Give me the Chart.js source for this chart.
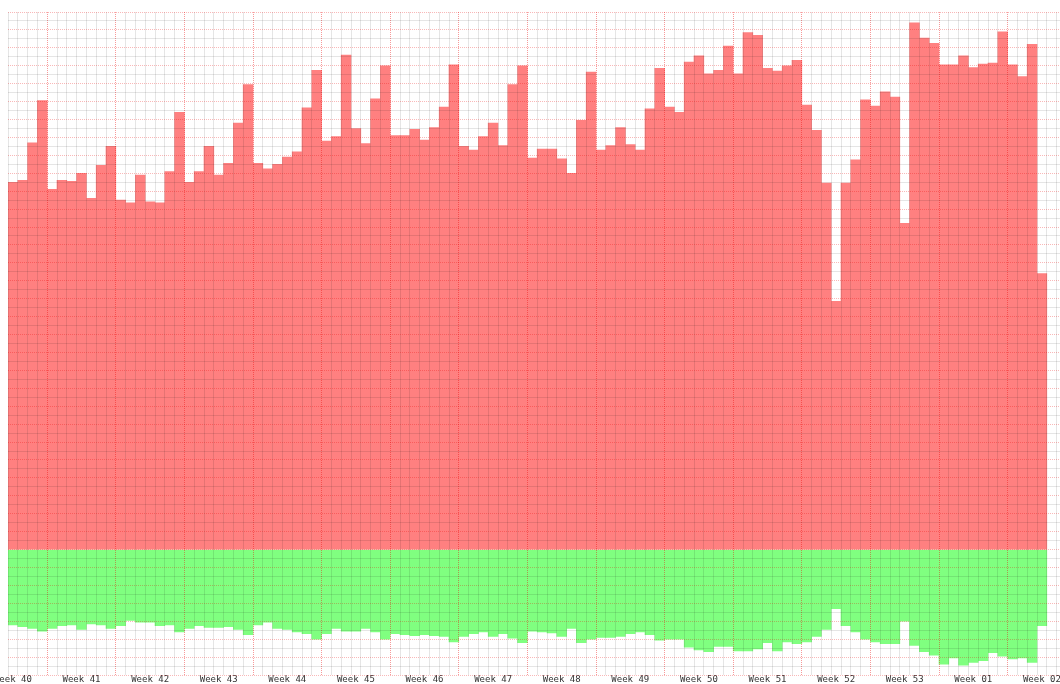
<!DOCTYPE html>
<html><head><meta charset="utf-8">
<script src="https://cdn.jsdelivr.net/npm/chart.js@4/dist/chart.umd.min.js"></script>
<style>
html,body{margin:0;padding:0;background:#fff;overflow:hidden;width:1060px;height:684px;}
#wrap{position:absolute;left:-40px;top:0;width:1120px;height:684px;}
</style></head><body>
<div id="wrap"><canvas id="c" width="1120" height="684"></canvas></div>
<script>
// Week tick labels (one per week, placed on each Thursday)
const weekLabels = ['Week 40','Week 41','Week 42','Week 43','Week 44','Week 45','Week 46','Week 47',
  'Week 48','Week 49','Week 50','Week 51','Week 52','Week 53','Week 01','Week 02'];

// Daily values, starting on Thursday of week 40 (positive series, red)
const inValues = [410,412,454,501,402,412,411,420,392,429,450,390,387,418,388,387,422,488,410,422,
  450,418,431,476,519,431,425,430,438,444,493,535,456,461,552,470,453,503,540,462,
  462,469,457,471,494,541,450,446,461,476,451,519,540,437,447,447,436,420,479,533,
  446,451,471,452,446,492,537,494,488,544,551,531,535,562,531,577,574,537,534,540,
  546,496,468,409,277,409,435,502,495,511,505,364,588,571,565,541,541,551,538,542,
  543,578,541,528,564,308];

// Daily values (negative series, green)
const outValues = [-84,-86,-88,-91,-88,-85,-84,-89,-83,-84,-88,-85,-79,-81,-81,-85,-84,-92,-88,-85,
  -87,-87,-86,-89,-95,-84,-81,-88,-89,-92,-94,-100,-94,-88,-91,-91,-88,-92,-100,-94,
  -95,-96,-95,-96,-97,-103,-97,-94,-92,-97,-94,-99,-104,-91,-92,-93,-97,-88,-104,-100,
  -98,-98,-97,-94,-92,-95,-101,-100,-100,-109,-112,-114,-108,-108,-113,-113,-111,-104,-113,-103,
  -105,-103,-97,-89,-66,-85,-92,-100,-103,-105,-105,-80,-107,-114,-118,-128,-121,-129,-126,-124,
  -115,-119,-122,-121,-126,-85];

const dayCount = 108; // visible day slots (last ones have no data yet)
const categories = Array.from({length: dayCount}, (_, i) => 'D' + i);
const padTo = (arr) => categories.map((_, i) => i < arr.length ? arr[i] : null);

const MAJOR = 'rgba(235,0,0,0.28)';
const MINOR = 'rgba(0,0,0,0.10)';

new Chart(document.getElementById('c'), {
  type: 'bar',
  data: {
    labels: categories,
    datasets: [
      { data: padTo(inValues), backgroundColor: '#FF8080', borderWidth: 0,
        barPercentage: 1, categoryPercentage: 1 },
      { data: padTo(outValues), backgroundColor: '#80FF80', borderWidth: 0,
        barPercentage: 1, categoryPercentage: 1 }
    ]
  },
  options: {
    responsive: false, animation: false, devicePixelRatio: 1,
    layout: { padding: { left: 48, right: 13.6, top: 12, bottom: 0 } },
    plugins: { legend: { display: false }, tooltip: { enabled: false } },
    scales: {
      x: {
        stacked: true, offset: true,
        grid: {
          offset: true, z: 1, drawTicks: false, lineWidth: 1,
          color: (ctx) => (ctx.index % 7 === 4) ? 'rgba(235,0,0,0.4)' : MINOR
        },
        border: { display: false, dash: (ctx) => (ctx.index % 7 === 4) ? [1, 1] : [] },
        ticks: {
          autoSkip: false, maxRotation: 0, minRotation: 0, padding: 0,
          color: '#333', font: { family: 'DejaVu Sans Mono', size: 9, lineHeight: 1 },
          callback: (v, i) => (i % 7 === 0 && weekLabels[i / 7]) ? weekLabels[i / 7] : ''
        }
      },
      y: {
        stacked: true, min: -140, max: 600,
        ticks: { display: false, stepSize: 10 },
        grid: {
          z: 1, drawTicks: false, lineWidth: 1,
          color: (ctx) => (ctx.tick && ctx.tick.value % 20 === 0) ? MAJOR : MINOR
        },
        border: { display: false, dash: (ctx) => (ctx.tick && ctx.tick.value % 20 === 0) ? [1, 1] : [] }
      }
    }
  }
});
</script>
</body></html>
